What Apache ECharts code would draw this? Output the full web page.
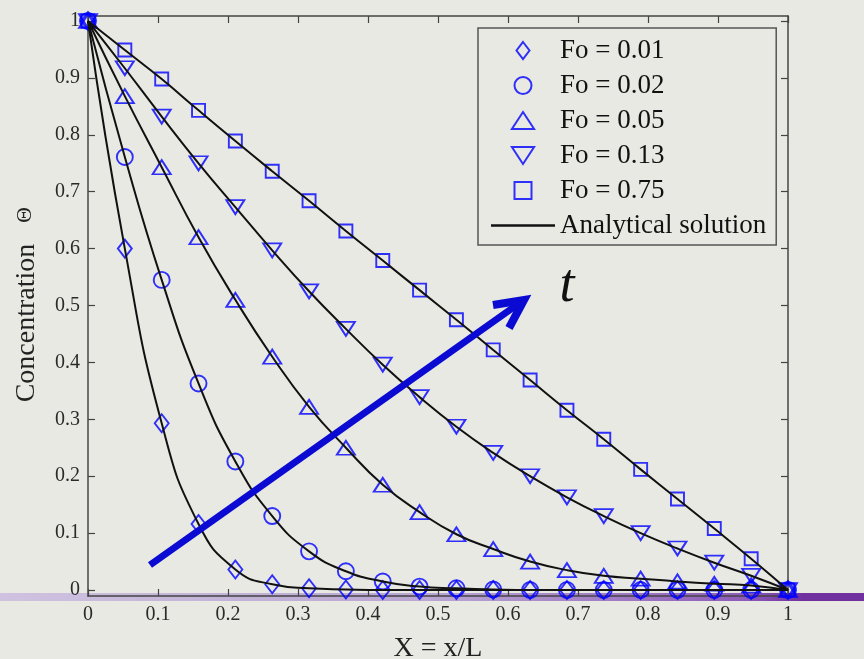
<!DOCTYPE html>
<html>
<head>
<meta charset="utf-8">
<script src="https://cdn.jsdelivr.net/npm/echarts@6/dist/echarts.min.js"></script>
<style>
  html, body { margin: 0; padding: 0; background: #e9e9e3; }
  #chart { width: 864px; height: 659px; }
</style>
</head>
<body>
<div id="chart"></div>
<script>
// positions along the slab, X = x/L (20 nodes)
const xPos = [0, 0.0526, 0.1053, 0.1579, 0.2105, 0.2632, 0.3158, 0.3684, 0.4211, 0.4737,
  0.5263, 0.5789, 0.6316, 0.6842, 0.7368, 0.7895, 0.8421, 0.8947, 0.9474, 1];

// concentration for each Fourier number
const fo001 = [1, 0.600, 0.293, 0.116, 0.036, 0.010, 0.003, 0.001, 0, 0,
  0, 0, 0, 0, 0, 0, 0, 0, 0, 0];
const fo002 = [1, 0.761, 0.545, 0.363, 0.226, 0.130, 0.068, 0.033, 0.015, 0.006,
  0.003, 0.001, 0, 0, 0, 0, 0, 0, 0, 0];
const fo005 = [1, 0.868, 0.743, 0.620, 0.510, 0.410, 0.322, 0.250, 0.185, 0.137,
  0.098, 0.072, 0.050, 0.035, 0.025, 0.020, 0.015, 0.011, 0.008, 0];
const fo013 = [1, 0.917, 0.832, 0.750, 0.673, 0.597, 0.525, 0.459, 0.396, 0.339,
  0.287, 0.241, 0.200, 0.163, 0.130, 0.100, 0.073, 0.048, 0.025, 0];
const fo075 = [1, 0.949, 0.898, 0.843, 0.789, 0.736, 0.684, 0.631, 0.579, 0.527,
  0.475, 0.422, 0.369, 0.316, 0.265, 0.212, 0.160, 0.108, 0.055, 0];

const yTicks = [0, 0.1, 0.2, 0.3, 0.4, 0.5, 0.6, 0.7, 0.8, 0.9, 1];
const seriesNames = ['Fo = 0.01', 'Fo = 0.02', 'Fo = 0.05', 'Fo = 0.13', 'Fo = 0.75'];
const lineName = 'Analytical solution';

const serif = '"Liberation Serif", "Times New Roman", serif';
const blue = '#0000ff';
const frame = '#444';

// hollow marker outlines (paths so the legend keeps their aspect)
const diamondPath = 'path://M13,0 L26,17 L13,34 L0,17 Z';
const triUpPath = 'path://M17,0 L34,26 L0,26 Z';
const triDownPath = 'path://M0,0 L34,0 L17,26 Z';
const squarePath = 'path://M0,0 L20,0 L20,20 L0,20 Z';

let chart = echarts.init(document.getElementById('chart'));

const pairs = arr => xPos.map((x, i) => [x, arr[i]]);

function markers(name, arr, symbol, size) {
  return {
    name: name,
    type: 'scatter',
    data: pairs(arr),
    symbol: symbol,
    symbolSize: size,
    clip: false,
    z: 3,
    itemStyle: { color: 'rgba(0,0,0,0)', borderColor: blue, borderWidth: 1.9 }
  };
}

function curve(arr) {
  return {
    name: lineName,
    type: 'line',
    data: pairs(arr),
    smooth: 0.5,
    symbol: 'none',
    showSymbol: false,
    z: 4,
    lineStyle: { color: '#111', width: 2 },
    itemStyle: { color: '#111' }
  };
}

const axisCommon = {
  type: 'value',
  axisLine: { show: true, onZero: false, lineStyle: { color: frame, width: 1.5 } },
  axisTick: { show: true, inside: true, length: 7, lineStyle: { color: frame, width: 1.2 } },
  splitLine: { show: false }
};

const tickFmt = v => String(Math.round(v * 10) / 10);

chart.setOption({
  backgroundColor: '#e9e9e3',
  animation: false,
  grid: { left: 88, right: 76, top: 16, bottom: 63, containLabel: false, outerBoundsMode: 'none' },
  xAxis: [
    Object.assign({}, axisCommon, {
      position: 'bottom', min: 0, max: 1, interval: 0.1,
      name: 'X = x/L', nameLocation: 'middle', nameGap: 39,
      nameTextStyle: { fontFamily: serif, fontSize: 28, color: '#222' },
      axisLabel: { margin: 9, fontFamily: serif, fontSize: 20, color: '#2a2a2a', formatter: tickFmt }
    }),
    Object.assign({}, axisCommon, {
      position: 'top', min: 0, max: 1, interval: 0.1,
      axisLabel: { show: false }
    })
  ],
  yAxis: [
    Object.assign({}, axisCommon, {
      position: 'left', min: -0.0105, max: 1.0088,
      axisLabel: { customValues: yTicks, margin: 8, fontFamily: serif, fontSize: 20, color: '#2a2a2a', formatter: tickFmt },
      axisTick: Object.assign({}, axisCommon.axisTick, { customValues: yTicks })
    }),
    Object.assign({}, axisCommon, {
      position: 'right', min: -0.0105, max: 1.0088,
      axisLabel: { show: false },
      axisTick: Object.assign({}, axisCommon.axisTick, { customValues: yTicks })
    })
  ],
  legend: {
    data: seriesNames.concat([{ name: lineName, icon: 'path://M0,0 L64,0 L64,2.4 L0,2.4 Z' }]),
    orient: 'vertical',
    left: 478, top: 28,
    padding: [9, 10, 6, 13],
    itemWidth: 64, itemHeight: 17, itemGap: 8,
    backgroundColor: '#e9e9e3',
    borderColor: '#555', borderWidth: 1.5, borderRadius: 0,
    textStyle: { fontFamily: serif, fontSize: 27, lineHeight: 26, color: '#111' },
    selectedMode: false
  },
  graphic: [
    // slide decoration band behind the x axis
    {
      type: 'rect', z: -10,
      shape: { x: 0, y: 593, width: 864, height: 8 },
      style: {
        fill: new echarts.graphic.LinearGradient(0, 0, 1, 0, [
          { offset: 0, color: '#cfc2e0' },
          { offset: 0.5, color: '#b9a6d2' },
          { offset: 0.86, color: '#8f5cba' },
          { offset: 0.93, color: '#7030a0' },
          { offset: 1, color: '#7030a0' }
        ])
      }
    },
    // time arrow
    {
      type: 'line', z: 100,
      shape: { x1: 150, y1: 565, x2: 521, y2: 302 },
      style: { stroke: '#0a0ad2', lineWidth: 7 }
    },
    {
      type: 'polyline', z: 100,
      shape: { points: [[493, 305], [524, 300], [509, 328]] },
      style: { stroke: '#0a0ad2', lineWidth: 8, fill: null, lineJoin: 'miter' }
    },
    {
      type: 'text', z: 100, x: 567, y: 287,
      style: { text: 't', font: 'italic 54px ' + serif, fill: '#111', align: 'center', verticalAlign: 'middle' }
    },
    // y axis title
    {
      type: 'text', x: 27, y: 323, rotation: Math.PI / 2,
      style: { text: 'Concentration', font: '28px ' + serif, fill: '#222', align: 'center', verticalAlign: 'middle' }
    },
    {
      type: 'text', x: 25, y: 215, rotation: Math.PI / 2,
      style: { text: 'Θ', font: '22px ' + serif, fill: '#222', align: 'center', verticalAlign: 'middle' }
    }
  ],
  series: [
    markers(seriesNames[0], fo001, diamondPath, [14, 18]),
    markers(seriesNames[1], fo002, 'circle', 16),
    markers(seriesNames[2], fo005, triUpPath, [18, 14]),
    markers(seriesNames[3], fo013, triDownPath, [18, 14]),
    markers(seriesNames[4], fo075, squarePath, 13),
    curve(fo001),
    curve(fo002),
    curve(fo005),
    curve(fo013),
    curve(fo075)
  ]
});
</script>
</body>
</html>
